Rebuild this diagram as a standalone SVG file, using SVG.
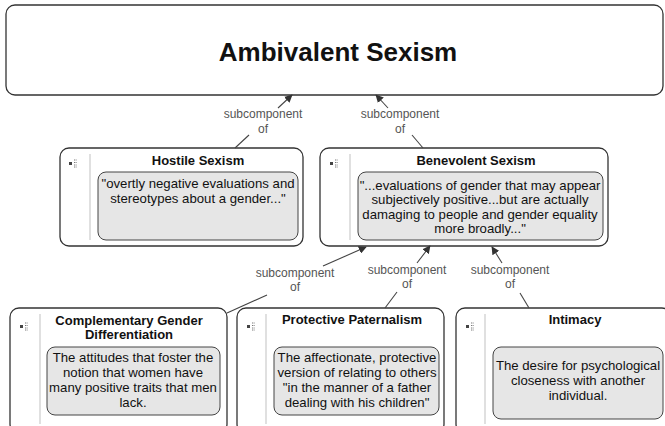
<svg xmlns="http://www.w3.org/2000/svg" width="665" height="426" viewBox="0 0 665 426">
<style>
.box{fill:#fff;stroke:#333;stroke-width:1.3}
.inner{fill:#e6e6e6;stroke:#444;stroke-width:1}
.sep{stroke:#ccc;stroke-width:1.2}
.title{font-family:"Liberation Sans",Arial,sans-serif;font-weight:bold;font-size:13px;fill:#111;text-anchor:middle}
.body{font-family:"Liberation Sans",Arial,sans-serif;font-size:13.2px;fill:#111;text-anchor:middle}
.lbl{font-family:"Liberation Sans",Arial,sans-serif;font-size:12px;fill:#555;text-anchor:middle}
.con{stroke:#444;stroke-width:1.1;fill:none}
</style>
<defs>
<marker id="ah" viewBox="0 0 10 10" refX="9" refY="5" markerWidth="8" markerHeight="8" orient="auto" markerUnits="userSpaceOnUse">
<path d="M0,0 L10,5 L0,10 z" fill="#333"/>
</marker>
<g id="icon">
<rect x="0" y="0" width="3" height="3" fill="#444"/>
<path d="M5,-2 h3 M5,0.5 h3 M5,3 h3 M5,5 h3" stroke="#777" stroke-width="1" stroke-dasharray="1,0.6"/>
</g>
</defs>

<g id="ambivalent">
<rect class="box" x="6" y="5" width="657" height="90" rx="9"/>
<text x="338" y="61" font-family="Liberation Sans,Arial,sans-serif" font-weight="bold" font-size="26" text-anchor="middle" fill="#111">Ambivalent Sexism</text>
</g>

<g id="hostile">
<rect class="box" x="60" y="148" width="243" height="98" rx="9"/>
<use href="#icon" x="69" y="162"/>
<line class="sep" x1="90" y1="154" x2="90" y2="240"/>
<text class="title" x="198" y="165">Hostile Sexism</text>
<rect class="inner" x="98" y="172" width="200" height="68" rx="8"/>
<text class="body" x="198" y="188">"overtly negative evaluations and</text>
<text class="body" x="198" y="202.5">stereotypes about a gender..."</text>
</g>

<g id="benevolent">
<rect class="box" x="320" y="148" width="288" height="98" rx="9"/>
<use href="#icon" x="330" y="162"/>
<line class="sep" x1="350" y1="154" x2="350" y2="240"/>
<text class="title" x="476" y="165">Benevolent Sexism</text>
<rect class="inner" x="358" y="172" width="245" height="68" rx="8"/>
<text class="body" x="480" y="189.5">"...evaluations of gender that may appear</text>
<text class="body" x="480" y="204">subjectively positive...but are actually</text>
<text class="body" x="480" y="218.5">damaging to people and gender equality</text>
<text class="body" x="480" y="233">more broadly..."</text>
</g>

<g id="complementary">
<rect class="box" x="10" y="308" width="217" height="125" rx="9"/>
<use href="#icon" x="20" y="325"/>
<line class="sep" x1="40" y1="314" x2="40" y2="424"/>
<text class="title" x="129" y="325">Complementary Gender</text>
<text class="title" x="129" y="339">Differentiation</text>
<rect class="inner" x="47" y="347" width="173" height="68" rx="8"/>
<text class="body" x="133" y="362">The attitudes that foster the</text>
<text class="body" x="133" y="377">notion that women have</text>
<text class="body" x="133" y="392">many positive traits that men</text>
<text class="body" x="133" y="407">lack.</text>
</g>

<g id="protective">
<rect class="box" x="237" y="308" width="207" height="125" rx="9"/>
<use href="#icon" x="247" y="325"/>
<line class="sep" x1="266" y1="314" x2="266" y2="424"/>
<text class="title" x="352" y="324">Protective Paternalism</text>
<rect class="inner" x="274" y="347" width="165" height="68" rx="8"/>
<text class="body" x="357" y="362">The affectionate, protective</text>
<text class="body" x="357" y="377">version of relating to others</text>
<text class="body" x="357" y="392">"in the manner of a father</text>
<text class="body" x="357" y="407">dealing with his children"</text>
</g>

<g id="intimacy">
<rect class="box" x="456" y="308" width="215" height="125" rx="9"/>
<use href="#icon" x="466" y="325"/>
<line class="sep" x1="485" y1="314" x2="485" y2="424"/>
<text class="title" x="575" y="324">Intimacy</text>
<rect class="inner" x="493" y="347" width="170" height="72" rx="8"/>
<text class="body" x="578" y="370">The desire for psychological</text>
<text class="body" x="578" y="385">closeness with another</text>
<text class="body" x="578" y="400">individual.</text>
</g>

<g id="connectors">
<line class="con" x1="235" y1="148" x2="249" y2="135"/>
<line class="con" x1="278" y1="108" x2="292" y2="95" marker-end="url(#ah)"/>
<text class="lbl" x="263" y="118">subcomponent</text>
<text class="lbl" x="263" y="133">of</text>

<line class="con" x1="423" y1="148" x2="412" y2="135"/>
<line class="con" x1="388" y1="108" x2="376" y2="95" marker-end="url(#ah)"/>
<text class="lbl" x="400" y="118">subcomponent</text>
<text class="lbl" x="400" y="133">of</text>

<line class="con" x1="227" y1="313" x2="267" y2="295"/>
<line class="con" x1="323" y1="266" x2="366" y2="247" marker-end="url(#ah)"/>
<text class="lbl" x="295" y="277">subcomponent</text>
<text class="lbl" x="295" y="291">of</text>

<line class="con" x1="385" y1="308" x2="397" y2="292"/>
<line class="con" x1="417" y1="263" x2="430" y2="246" marker-end="url(#ah)"/>
<text class="lbl" x="407" y="274">subcomponent</text>
<text class="lbl" x="407" y="288">of</text>

<line class="con" x1="529" y1="308" x2="520" y2="293"/>
<line class="con" x1="502" y1="263" x2="492" y2="247" marker-end="url(#ah)"/>
<text class="lbl" x="510" y="274">subcomponent</text>
<text class="lbl" x="510" y="288">of</text>
</g>
</svg>
